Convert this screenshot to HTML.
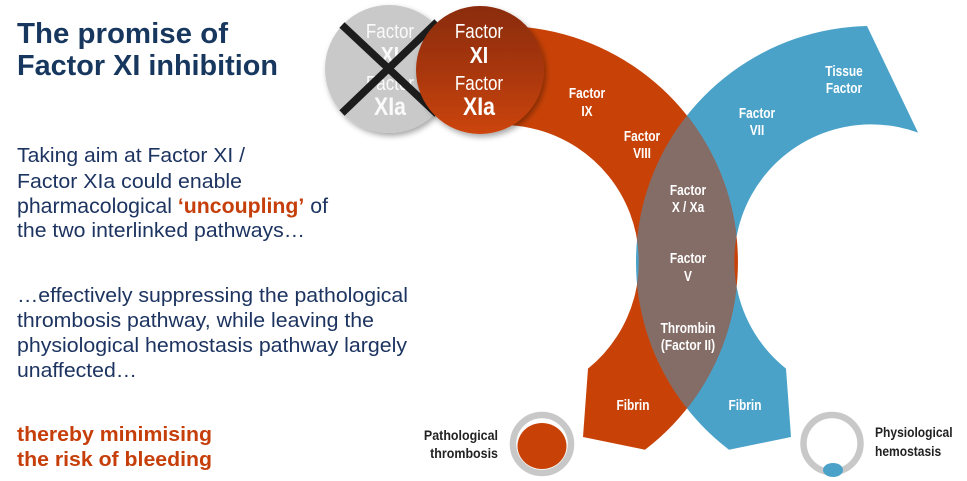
<!DOCTYPE html>
<html>
<head>
<meta charset="utf-8">
<style>
  html,body{margin:0;padding:0;background:#fff;}
  body{width:967px;height:481px;overflow:hidden;}
  svg{display:block;}
  .lt{font-family:"Liberation Sans",Arial,sans-serif;font-size:20px;fill:#1d3461;}
  .ttl{font-family:"Liberation Sans",Arial,sans-serif;font-size:29px;font-weight:bold;fill:#17375e;}
  .red{fill:#c63f0b;font-weight:bold;}
  .dl{font-family:"Liberation Sans",Arial,sans-serif;font-size:14.5px;font-weight:bold;fill:#fff;text-anchor:middle;}
  .cl{font-family:"Liberation Sans",Arial,sans-serif;fill:#fff;text-anchor:middle;}
  .kl{font-family:"Liberation Sans",Arial,sans-serif;font-size:14px;font-weight:bold;fill:#222;}
</style>
</head>
<body>
<svg width="967" height="481" viewBox="0 0 967 481" xmlns="http://www.w3.org/2000/svg">
  <defs>
    <linearGradient id="brg" x1="0" y1="0" x2="0" y2="1">
      <stop offset="0" stop-color="#8a2c0c"/>
      <stop offset="0.5" stop-color="#a8360a"/>
      <stop offset="1" stop-color="#cc4509"/>
    </linearGradient>
    <filter id="sh" x="-20%" y="-20%" width="150%" height="150%">
      <feDropShadow dx="2" dy="3" stdDeviation="3" flood-color="#000" flood-opacity="0.35"/>
    </filter>
    <clipPath id="orClip">
      <path d="M 490,26.3 A 236 236 0 0 1 645,449.7 L 583,437 L 588,368.6 A 137 137 0 0 0 495,125.2 Z"/>
    </clipPath>
  </defs>

  <!-- Left text -->
  <text class="ttl" x="17" y="43" textLength="211" lengthAdjust="spacingAndGlyphs">The promise of</text>
  <text class="ttl" x="17" y="75" textLength="261" lengthAdjust="spacingAndGlyphs">Factor XI inhibition</text>

  <text class="lt" x="17" y="162" textLength="228" lengthAdjust="spacingAndGlyphs">Taking aim at Factor XI /</text>
  <text class="lt" x="17" y="188" textLength="225" lengthAdjust="spacingAndGlyphs">Factor XIa could enable</text>
  <text class="lt" x="17" y="213" style="font-size:21px" textLength="311" lengthAdjust="spacingAndGlyphs">pharmacological <tspan class="red">‘uncoupling’</tspan> of</text>
  <text class="lt" x="17" y="237" textLength="288" lengthAdjust="spacingAndGlyphs">the two interlinked pathways…</text>

  <text class="lt" x="17" y="302" textLength="391" lengthAdjust="spacingAndGlyphs">…effectively suppressing the pathological</text>
  <text class="lt" x="17" y="327" textLength="357" lengthAdjust="spacingAndGlyphs">thrombosis pathway, while leaving the</text>
  <text class="lt" x="17" y="352" textLength="390" lengthAdjust="spacingAndGlyphs">physiological hemostasis pathway largely</text>
  <text class="lt" x="17" y="377" textLength="120" lengthAdjust="spacingAndGlyphs">unaffected…</text>

  <text class="lt red" x="17" y="441" textLength="195" lengthAdjust="spacingAndGlyphs">thereby minimising</text>
  <text class="lt red" x="17" y="466" textLength="195" lengthAdjust="spacingAndGlyphs">the risk of bleeding</text>

  <!-- Blue band -->
  <path d="M 867,26 A 236 236 0 0 0 729,449.7 L 791,437 L 786,368.6 A 137 137 0 0 1 918,132.6 Z" fill="#4aa2c9"/>
  <!-- Orange band -->
  <path d="M 490,26.3 A 236 236 0 0 1 645,449.7 L 583,437 L 588,368.6 A 137 137 0 0 0 495,125.2 Z" fill="#c84207"/>
  <!-- Lens (intersection) -->
  <path clip-path="url(#orClip)" d="M 867,26 A 236 236 0 0 0 729,449.7 L 791,437 L 786,368.6 A 137 137 0 0 1 918,132.6 Z" fill="#846d67"/>

  <!-- Circles -->
  <circle cx="389" cy="69" r="64" fill="#c9c9c9" filter="url(#sh)"/>
  <g fill-opacity="0.9">
  <text class="cl" font-size="20" transform="translate(390,38) scale(0.85,1)">Factor</text>
  <text class="cl" font-size="23" font-weight="bold" transform="translate(390,63) scale(0.85,1)">XI</text>
  <text class="cl" font-size="20" transform="translate(390,90) scale(0.85,1)">Factor</text>
  <text class="cl" font-size="25" font-weight="bold" transform="translate(390,115) scale(0.85,1)">XIa</text>
  </g>
  <line x1="342" y1="25" x2="437" y2="114" stroke="#1c1c1c" stroke-width="7.5"/>
  <line x1="437" y1="22" x2="342" y2="113" stroke="#1c1c1c" stroke-width="7.5"/>

  <circle cx="480" cy="70" r="64" fill="url(#brg)" filter="url(#sh)"/>
  <text class="cl" font-size="20" transform="translate(479,38) scale(0.85,1)">Factor</text>
  <text class="cl" font-size="23" font-weight="bold" transform="translate(479,63) scale(0.85,1)">XI</text>
  <text class="cl" font-size="20" transform="translate(479,90) scale(0.85,1)">Factor</text>
  <text class="cl" font-size="25" font-weight="bold" transform="translate(479,115) scale(0.85,1)">XIa</text>

  <!-- Band labels -->
  <text class="dl" transform="translate(587,98) scale(0.82,1)">Factor</text>
  <text class="dl" transform="translate(587,116) scale(0.82,1)">IX</text>
  <text class="dl" transform="translate(642,141) scale(0.82,1)">Factor</text>
  <text class="dl" transform="translate(642,158) scale(0.82,1)">VIII</text>

  <text class="dl" transform="translate(688,195) scale(0.82,1)">Factor</text>
  <text class="dl" transform="translate(688,212) scale(0.82,1)">X / Xa</text>
  <text class="dl" transform="translate(688,263) scale(0.82,1)">Factor</text>
  <text class="dl" transform="translate(688,281) scale(0.82,1)">V</text>
  <text class="dl" transform="translate(688,333) scale(0.82,1)">Thrombin</text>
  <text class="dl" transform="translate(688,350) scale(0.82,1)">(Factor II)</text>

  <text class="dl" transform="translate(633,410) scale(0.82,1)">Fibrin</text>
  <text class="dl" transform="translate(745,410) scale(0.82,1)">Fibrin</text>

  <text class="dl" transform="translate(757,118) scale(0.82,1)">Factor</text>
  <text class="dl" transform="translate(757,135) scale(0.82,1)">VII</text>
  <text class="dl" transform="translate(844,76) scale(0.82,1)">Tissue</text>
  <text class="dl" transform="translate(844,93) scale(0.82,1)">Factor</text>

  <!-- Pathological thrombosis key -->
  <circle cx="542" cy="444" r="29" fill="none" stroke="#c8c8c8" stroke-width="6.5"/>
  <ellipse cx="542" cy="446" rx="24.5" ry="23" fill="#c84207"/>
  <text class="kl" text-anchor="end" transform="translate(498,440) scale(0.89,1)">Pathological</text>
  <text class="kl" text-anchor="end" transform="translate(498,458) scale(0.89,1)">thrombosis</text>

  <!-- Physiological hemostasis key -->
  <circle cx="832" cy="443.5" r="28.5" fill="none" stroke="#c8c8c8" stroke-width="6.5"/>
  <ellipse cx="833" cy="470" rx="10" ry="7" fill="#4aa2c9"/>
  <text class="kl" transform="translate(875,437) scale(0.86,1)">Physiological</text>
  <text class="kl" transform="translate(875,456) scale(0.86,1)">hemostasis</text>
</svg>
</body>
</html>
